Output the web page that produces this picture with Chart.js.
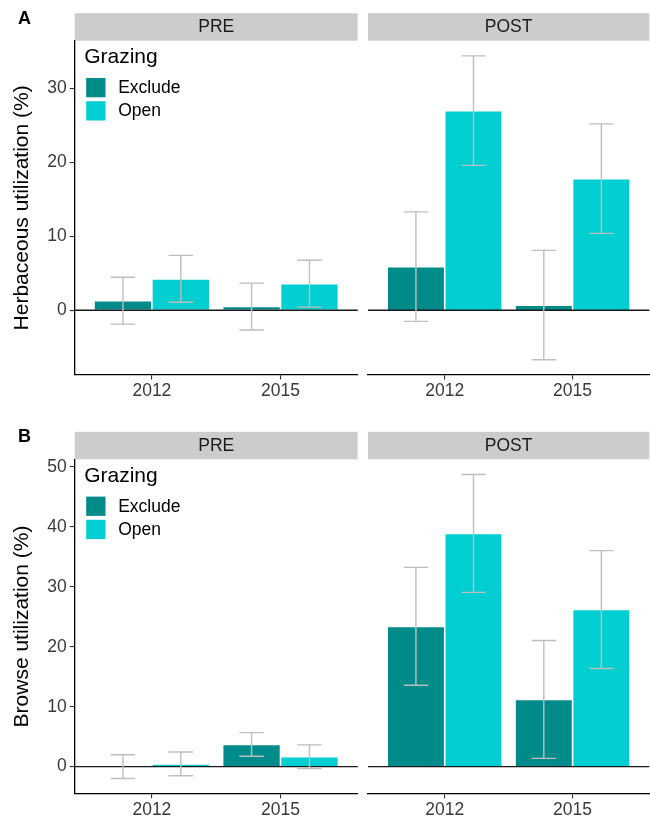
<!DOCTYPE html>
<html>
<head>
<meta charset="utf-8">
<script src="https://cdn.jsdelivr.net/npm/chart.js@4/dist/chart.umd.min.js"></script>
<style>
  html, body { margin: 0; padding: 0; background: #ffffff; }
  #fig { position: relative; width: 650px; height: 821px; overflow: hidden; }
  #fig canvas { position: absolute; }
</style>
</head>
<body>
<div id="fig">
  <canvas id="herbPre"  width="360" height="400" style="left:0px;top:0px"></canvas>
  <canvas id="herbPost" width="290" height="400" style="left:360px;top:0px"></canvas>
  <canvas id="browPre"  width="360" height="421" style="left:0px;top:400px"></canvas>
  <canvas id="browPost" width="290" height="421" style="left:360px;top:400px"></canvas>
</div>
<script>
// ---- data ----------------------------------------------------------------
const years = ['2012', '2015'];
const groups = ['Exclude', 'Open'];
const periods = ['PRE', 'POST'];

// Herbaceous utilization (%), mean and standard error by year
const herbPreExclude = [1.3, 0.5];
const herbPreOpen = [4.25, 3.6];
const herbPostExclude = [5.9, 0.7];
const herbPostOpen = [27.0, 17.8];
const herbPreExcludeSE = [3.17, 3.17];
const herbPreOpenSE = [3.17, 3.17];
const herbPostExcludeSE = [7.4, 7.4];
const herbPostOpenSE = [7.4, 7.4];
const herbTicks = [0, 10, 20, 30];

// Browse utilization (%), mean and standard error by year
const browPreExclude = [0.0, 3.7];
const browPreOpen = [0.45, 1.65];
const browPostExclude = [23.4, 11.2];
const browPostOpen = [38.9, 26.2];
const browPreExcludeSE = [1.98, 1.98];
const browPreOpenSE = [1.98, 1.98];
const browPostExcludeSE = [9.83, 9.83];
const browPostOpenSE = [9.83, 9.83];
const browTicks = [0, 10, 20, 30, 40, 50];

// ---- styling ---------------------------------------------------------------
const FONT = '"Liberation Sans", Arial, Helvetica, sans-serif';
const COLORS = ['#008B8B', '#00CED1'];
const ERR_COLOR = '#BEBEBE';
const STRIP_FILL = '#CCCCCC';
const SMALL = 17.5;
const BIG = 21;

// y range: error-bar extent (and zero) expanded by 5% on each side
function yRange(means, ses) {
  let lo = 0, hi = 0;
  means.forEach((m, k) => m.forEach((v, i) => {
    lo = Math.min(lo, v - ses[k][i]);
    hi = Math.max(hi, v + ses[k][i]);
  }));
  const pad = 0.05 * (hi - lo);
  return [lo - pad, hi + pad];
}

const facetDecor = {
  id: 'facetDecor',
  beforeDraw(chart, args, o) {
    const { ctx, chartArea: a } = chart;
    ctx.save();
    ctx.fillStyle = STRIP_FILL;
    ctx.fillRect(a.left, a.top - o.stripH, a.right - a.left, o.stripH);
    ctx.fillStyle = '#1A1A1A';
    ctx.font = SMALL + 'px ' + FONT;
    ctx.textAlign = 'center';
    ctx.textBaseline = 'middle';
    ctx.fillText(o.period, (a.left + a.right) / 2, a.top - o.stripH / 2 + 0.5);
    if (o.letter) {
      ctx.fillStyle = '#000000';
      ctx.font = 'bold 18px ' + FONT;
      ctx.fillText(o.letter, 24.5, o.letterY);
    }
    ctx.restore();
  },
  afterDatasetsDraw(chart, args, o) {
    const { ctx, chartArea: a, scales: { x, y } } = chart;
    ctx.save();
    // reference line at zero
    const y0 = y.getPixelForValue(0);
    ctx.strokeStyle = '#1A1A1A';
    ctx.lineWidth = 1.3;
    ctx.beginPath();
    ctx.moveTo(a.left, y0);
    ctx.lineTo(a.right, y0);
    ctx.stroke();
    // error bars (mean +/- SE)
    const capHalf = x.getPixelForValue(1 + o.capWidth / 2) - x.getPixelForValue(1);
    ctx.strokeStyle = ERR_COLOR;
    ctx.lineWidth = 1.4;
    chart.data.datasets.forEach((ds, d) => {
      const meta = chart.getDatasetMeta(d);
      meta.data.forEach((el, i) => {
        const m = ds.data[i].y, se = ds.se[i];
        const cx = el.x;
        const yt = y.getPixelForValue(m + se);
        const yb = y.getPixelForValue(m - se);
        ctx.beginPath();
        ctx.moveTo(cx, yt); ctx.lineTo(cx, yb);
        ctx.moveTo(cx - capHalf, yt); ctx.lineTo(cx + capHalf, yt);
        ctx.moveTo(cx - capHalf, yb); ctx.lineTo(cx + capHalf, yb);
        ctx.stroke();
      });
    });
    ctx.restore();
  },
  afterDraw(chart, args, o) {
    if (!o.legend) return;
    const { ctx, chartArea: a } = chart;
    ctx.save();
    ctx.textAlign = 'left';
    ctx.textBaseline = 'middle';
    ctx.fillStyle = '#000000';
    ctx.font = BIG + 'px ' + FONT;
    ctx.fillText('Grazing', a.left + 9.5, a.top + 17);
    ctx.font = SMALL + 'px ' + FONT;
    chart.data.datasets.forEach((ds, d) => {
      const top = a.top + 37.3 + d * 23.2;
      ctx.fillStyle = ds.backgroundColor;
      ctx.fillRect(a.left + 11.5, top, 19.3, 19.3);
      ctx.fillStyle = '#000000';
      ctx.fillText(ds.label, a.left + 43.5, top + 10.2);
    });
    ctx.restore();
  }
};

function facet(id, opt) {
  const datasets = groups.map((g, k) => ({
    label: g,
    data: opt.means[k].map((v, i) => ({ x: i + 1, y: v })),
    se: opt.ses[k],
    backgroundColor: COLORS[k],
    borderColor: '#FFFFFF',
    borderWidth: 0.8,
    categoryPercentage: 0.9,
    barPercentage: 1.0
  }));
  return new Chart(document.getElementById(id), {
    type: 'bar',
    data: { datasets },
    plugins: [facetDecor],
    options: {
      responsive: false,
      animation: false,
      devicePixelRatio: 1,
      layout: { padding: opt.padding },
      plugins: {
        legend: { display: false },
        tooltip: { enabled: false },
        facetDecor: {
          period: opt.period, stripH: 27.5, capWidth: 0.19,
          legend: opt.legend, letter: opt.letter, letterY: opt.letterY
        }
      },
      scales: {
        x: {
          type: 'linear',
          min: 0.4, max: 2.6,
          offset: false,
          afterBuildTicks: s => { s.ticks = years.map((_, i) => ({ value: i + 1 })); },
          afterFit: s => { s.height = opt.xHeight; },
          ticks: {
            callback: (v, i) => years[i],
            font: { family: FONT, size: SMALL },
            color: '#3A3A3A',
            padding: 1,
            maxRotation: 0,
            autoSkip: false
          },
          grid: { display: true, drawOnChartArea: false, offset: false, tickLength: 4.5, color: '#333333', lineWidth: 1.1 },
          border: { display: true, color: '#000000', width: 1.3 }
        },
        y: {
          type: 'linear',
          display: opt.showY,
          min: opt.range[0], max: opt.range[1],
          afterBuildTicks: s => { s.ticks = opt.ticks.map(v => ({ value: v })); },
          afterFit: s => { s.width = opt.showY ? 74.7 : 0; },
          ticks: {
            callback: v => String(v),
            font: { family: FONT, size: SMALL },
            color: '#3A3A3A',
            padding: 3
          },
          grid: { display: true, drawOnChartArea: false, tickLength: 5, color: '#333333', lineWidth: 1.1 },
          border: { display: true, color: '#000000', width: 1.3 },
          title: {
            display: opt.showY,
            text: opt.yTitle,
            font: { family: FONT, size: BIG },
            color: '#000000',
            padding: { top: 10, bottom: 0 }
          }
        }
      }
    }
  });
}

// ---- panel A: herbaceous utilization -------------------------------------
const herbRange = yRange(
  [herbPreExclude, herbPreOpen, herbPostExclude, herbPostOpen],
  [herbPreExcludeSE, herbPreOpenSE, herbPostExcludeSE, herbPostOpenSE]);

facet('herbPre', {
  period: periods[0], means: [herbPreExclude, herbPreOpen], ses: [herbPreExcludeSE, herbPreOpenSE],
  range: herbRange, ticks: herbTicks, showY: true, yTitle: 'Herbaceous utilization (%)',
  legend: true, letter: 'A', letterY: 18.8,
  padding: { left: 0, right: 2.3, top: 40.7, bottom: 0 }, xHeight: 25
});
facet('herbPost', {
  period: periods[1], means: [herbPostExclude, herbPostOpen], ses: [herbPostExcludeSE, herbPostOpenSE],
  range: herbRange, ticks: herbTicks, showY: false, yTitle: '',
  legend: false, letter: null,
  padding: { left: 8, right: 0.7, top: 40.7, bottom: 0 }, xHeight: 25
});

// ---- panel B: browse utilization -----------------------------------------
const browRange = yRange(
  [browPreExclude, browPreOpen, browPostExclude, browPostOpen],
  [browPreExcludeSE, browPreOpenSE, browPostExcludeSE, browPostOpenSE]);

facet('browPre', {
  period: periods[0], means: [browPreExclude, browPreOpen], ses: [browPreExcludeSE, browPreOpenSE],
  range: browRange, ticks: browTicks, showY: true, yTitle: 'Browse utilization (%)',
  legend: true, letter: 'B', letterY: 37.5,
  padding: { left: 0, right: 2.3, top: 59.3, bottom: 0 }, xHeight: 27.3
});
facet('browPost', {
  period: periods[1], means: [browPostExclude, browPostOpen], ses: [browPostExcludeSE, browPostOpenSE],
  range: browRange, ticks: browTicks, showY: false, yTitle: '',
  legend: false, letter: null,
  padding: { left: 8, right: 0.7, top: 59.3, bottom: 0 }, xHeight: 27.3
});
</script>
</body>
</html>
